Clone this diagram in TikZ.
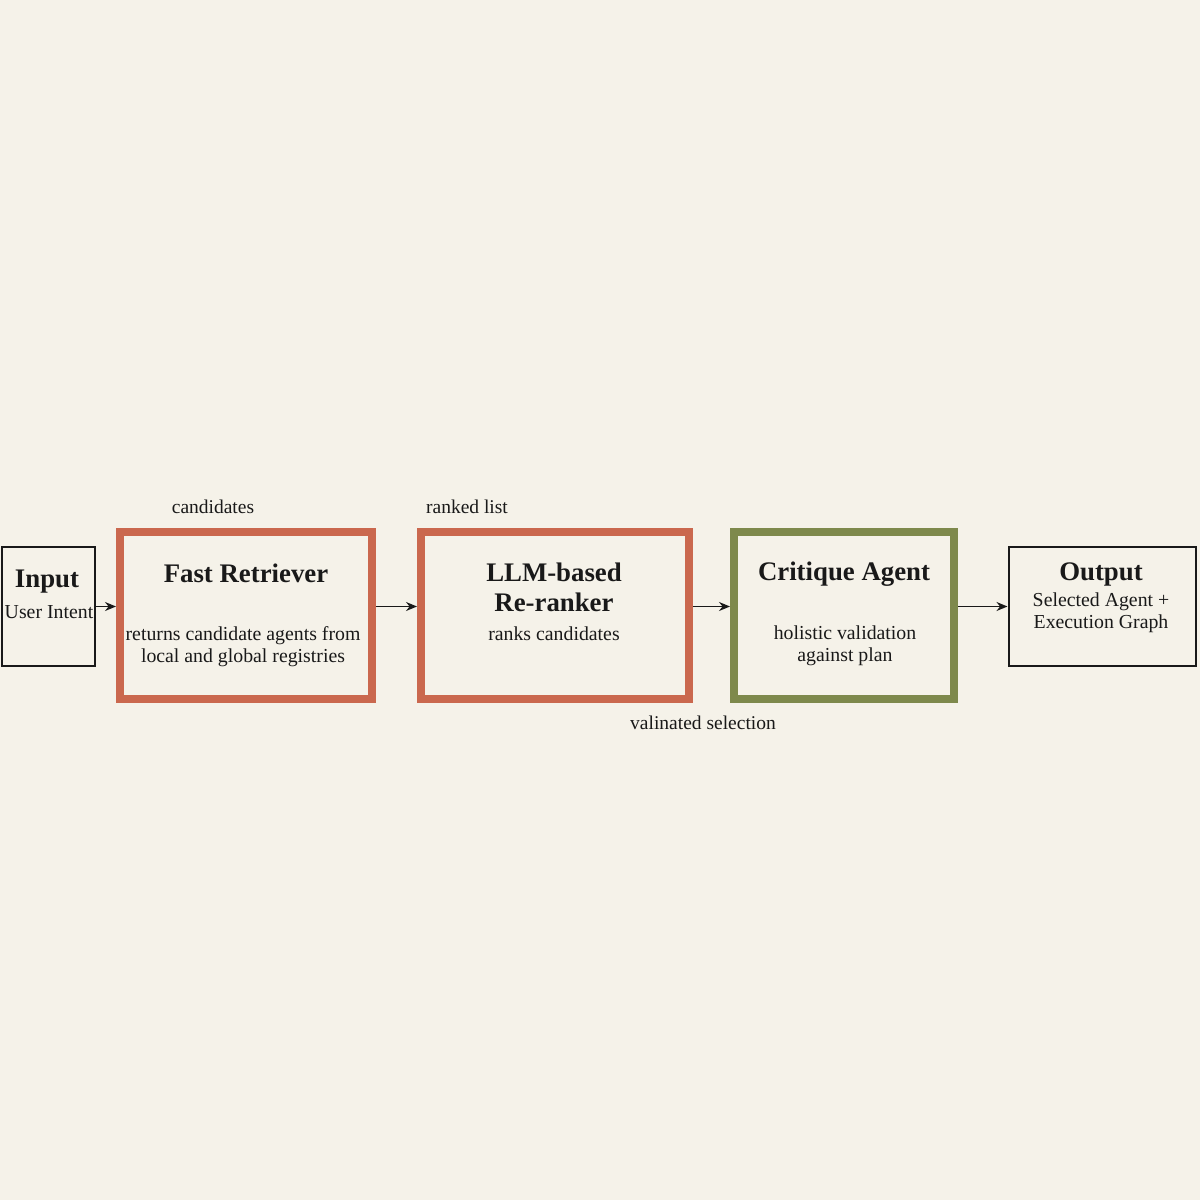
\documentclass[tikz,border=0pt]{standalone}
\usepackage{fontspec}
\setmainfont{Liberation Serif}
\usetikzlibrary{arrows.meta}
\definecolor{bg}{RGB}{245,242,233}
\definecolor{redbox}{RGB}{202,104,78}
\definecolor{olivebox}{RGB}{126,137,76}
\definecolor{ink}{RGB}{25,25,25}
\tikzset{
  plainbox/.style={draw=ink, line width=2pt, inner sep=0pt},
  redstage/.style={draw=redbox, line width=8pt, inner sep=0pt},
  greenstage/.style={draw=olivebox, line width=8pt, inner sep=0pt},
  title/.style={font=\fontsize{26.8}{30}\selectfont\bfseries, text=ink, align=center, inner sep=0pt},
  desc/.style={font=\fontsize{19.8}{22}\selectfont, text=ink, align=center, inner sep=0pt},
  flowlabel/.style={font=\fontsize{19.5}{22}\selectfont, text=ink, inner sep=0pt},
  flow/.style={draw=ink, line width=1.4pt, -{Stealth[length=11pt,width=9pt]}}
}
\begin{document}
\begin{tikzpicture}[x=1pt,y=-1pt]
\fill[bg] (0,0) rectangle (1200,1200);
\useasboundingbox (0,0) rectangle (1200,1200);

% boxes
\node[plainbox, minimum width=93pt, minimum height=119pt] (in) at (48.5,606.5) {};
\node[redstage, minimum width=252pt, minimum height=167pt] (fr) at (246,615.5) {};
\node[redstage, minimum width=268pt, minimum height=167pt] (llm) at (555,615.5) {};
\node[greenstage, minimum width=220pt, minimum height=167pt] (cr) at (844,615.5) {};
\node[plainbox, minimum width=187pt, minimum height=119pt] (out) at (1102,606.5) {};

% texts
\node[title] (inT) at (47,582) {Input};
\node[desc] (inD) at (49,612) {User Intent};
\node[title] (frT) at (246,573) {Fast Retriever};
\node[desc] (frD) at (243,647) {returns candidate agents from\\local and global registries};
\node[title] (llmT) at (554,587) {LLM-based\\Re-ranker};
\node[desc] (llmD) at (554,634) {ranks candidates};
\node[title] (crT) at (844,574) {Critique Agent};
\node[desc] (crD) at (845,645.5) {holistic validation\\against plan};
\node[title] (outT) at (1101,574) {Output};
\node[desc] (outD) at (1101,613) {Selected Agent +\\Execution Graph};

% flow labels
\node[flowlabel] (l1) at (213,507) {candidates};
\node[flowlabel] (l2) at (467,507) {ranked list};
\node[flowlabel] (l3) at (703,723) {valinated selection};

% connectors
\draw[flow] (in.east) -- (in.east -| fr.west);
\draw[flow] (fr.east |- in.east) -- (llm.west |- in.east);
\draw[flow] (llm.east |- in.east) -- (cr.west |- in.east);
\draw[flow] (cr.east |- in.east) -- (out.west);
\end{tikzpicture}
\end{document}
